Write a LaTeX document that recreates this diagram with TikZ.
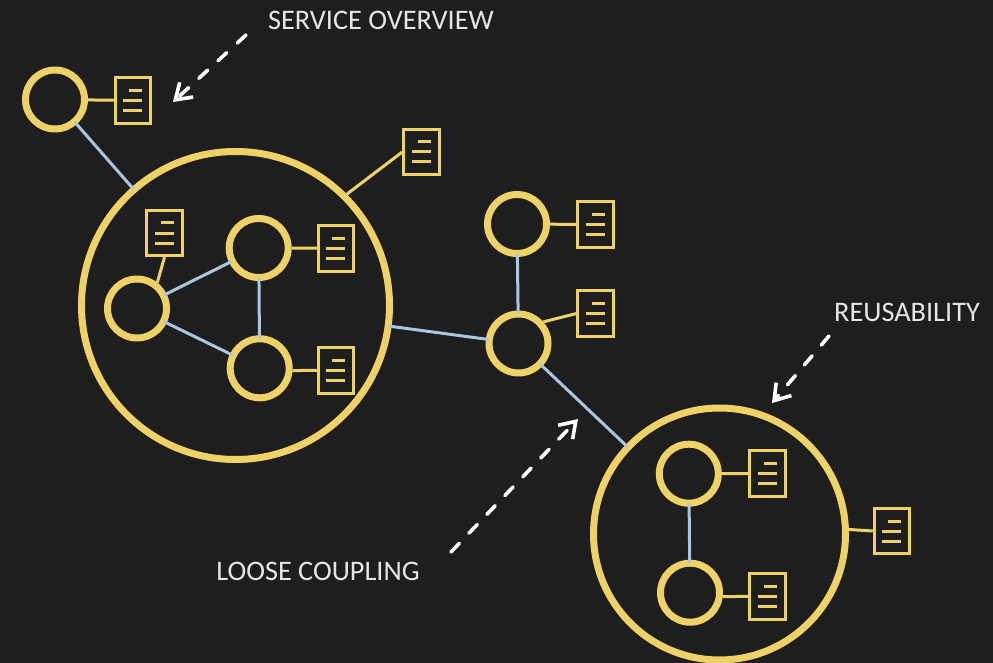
\documentclass[tikz,border=0pt]{standalone}
\usepackage{fontspec}
\setmainfont{Carlito}
\usetikzlibrary{arrows.meta}
\definecolor{bgdark}{HTML}{1E1E1E}
\definecolor{gold}{HTML}{EFD267}
\definecolor{paleblue}{HTML}{A9C7DF}
\definecolor{note}{HTML}{E6E6E6}
\tikzset{
  svc/.style={circle,draw=gold,line width=7pt,minimum size=#1,inner sep=0pt},
  svc/.default=59pt,
  doc/.style={rectangle,draw=gold,line width=3pt,minimum width=35.5pt,minimum height=45.5pt,inner sep=0pt,
    path picture={
      \draw [gold,line width=3pt] ([shift={(-4pt,10pt)}]path picture bounding box.center) -- ++(13pt,0pt);
      \draw [gold,line width=3pt] ([shift={(-10pt,0pt)}]path picture bounding box.center) -- ++(19pt,0pt);
      \draw [gold,line width=3pt] ([shift={(-10pt,-10pt)}]path picture bounding box.center) -- ++(19pt,0pt);
    }},
  tie/.style={draw=gold,line width=3pt},
  link/.style={draw=paleblue,line width=3pt,shorten >=-3pt,shorten <=-3pt},
  callout/.style={draw=white,line width=3.6pt,line cap=round,dash pattern=on 12pt off 14pt,-{Straight Barb[length=15pt,width=20pt,line width=3.6pt]}},
  lbl/.style={text=note,font=\fontsize{28.3}{34}\selectfont,inner sep=0pt}
}
\begin{document}
\begin{tikzpicture}[x=1pt,y=-1pt]
\path [fill=bgdark,use as bounding box] (0,0) rectangle (993,663);
\node [svc] (a) at (55,99.5) {};
\node [svc=308pt] (big) at (235.5,305.5) {};
\node [svc] (b1) at (137,308.5) {};
\node [svc] (b2) at (258.7,248) {};
\node [svc] (b3) at (259.7,368.3) {};
\node [svc] (c) at (517,224) {};
\node [svc] (d) at (518.5,343.5) {};
\node [svc=252pt] (small) at (719.5,534) {};
\node [svc] (e1) at (688.8,473.7) {};
\node [svc] (e2) at (690,592.7) {};
\node [doc] (da) at (133,100.5) {};
\node [doc] (dbig) at (421.5,152) {};
\node [doc] (db1) at (164.5,233) {};
\node [doc] (db2) at (336,248.3) {};
\node [doc] (db3) at (336,370.3) {};
\node [doc] (dc) at (595.7,224.5) {};
\node [doc] (dd) at (595.7,313.5) {};
\node [doc] (de1) at (767.5,473.6) {};
\node [doc] (de2) at (767.5,596.3) {};
\node [doc] (dsmall) at (892,531) {};
\path [tie] (a) -- (da);
\path [tie] (big.45) -- (dbig.west);
\path [tie] (b1.52) -- (db1.south);
\path [tie] (b2) -- (db2);
\path [tie] (b3.356) -- (db3.west);
\path [tie] (c) -- (dc);
\path [tie] (d.41) -- (dd.west);
\path [tie] (e1) -- (de1);
\path [tie] (e2.353) -- (de2.west);
\path [tie] (small.2) -- (dsmall.west);
\path [link] (a) -- (big);
\path [link] (b1) -- (b2);
\path [link] (b1) -- (b3);
\path [link] (b2) -- (b3);
\path [link] (big) -- (d);
\path [link] (c) -- (d);
\path [link] (d) -- (small);
\path [link] (e1) -- (e2);
\node [lbl] (overview) at (381,20) {SERVICE OVERVIEW};
\node [lbl] (reuse) at (907,312) {REUSABILITY};
\node [lbl] (coupling) at (318,571) {LOOSE COUPLING};
\coordinate (o1) at (246,35);
\coordinate (o2) at (173,102);
\coordinate (r1) at (829,336);
\coordinate (r2) at (772,403);
\coordinate (l1) at (451,552);
\coordinate (l2) at (578,419);
\draw [callout] (o1) -- (o2);
\draw [callout] (r1) -- (r2);
\draw [callout] (l1) -- (l2);
\end{tikzpicture}
\end{document}
